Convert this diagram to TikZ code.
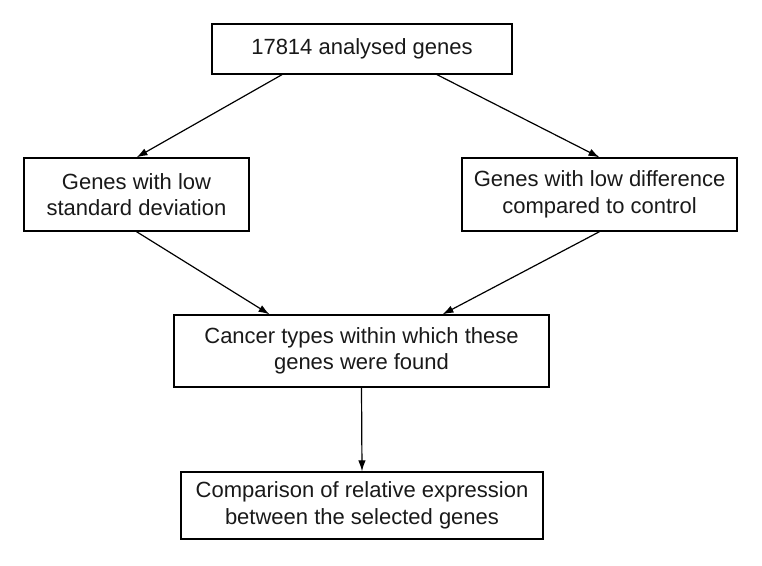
\documentclass[tikz,border=0pt]{standalone}
\usepackage{fontspec}
\setmainfont{Liberation Sans}
\usetikzlibrary{arrows.meta}
\begin{document}
\begin{tikzpicture}[x=1pt, y=-1pt,
  stagebox/.style={draw, line width=1.3pt, align=center, inner sep=0pt,
    font=\fontsize{22}{26.5}\selectfont, text=black!90},
  flow/.style={draw, line width=1.2pt, -{Latex[length=11pt, width=7.5pt]}}]
\useasboundingbox (0,0) rectangle (762,565);
\node[stagebox, minimum width=300pt, minimum height=50pt] (genes) at (362,49) {17814 analysed genes};
\node[stagebox, minimum width=225pt, minimum height=73pt] (lowsd) at (136.5,194.5) {Genes with low\\standard deviation};
\node[stagebox, minimum width=275pt, minimum height=73pt] (lowdiff) at (599.5,194.5) {Genes with low difference\\compared to control};
\node[stagebox, minimum width=375pt, minimum height=72pt] (cancer) at (361.5,351) {Cancer types within which these\\genes were found};
\node[stagebox, minimum width=362pt, minimum height=67pt] (compare) at (362,505.5) {Comparison of relative expression\\between the selected genes};
\draw[flow] ([xshift=-80pt]genes.south) -- (lowsd.north);
\draw[flow] ([xshift=75pt]genes.south) -- (lowdiff.north);
\draw[flow] (lowsd.south) -- ([xshift=-92pt]cancer.north);
\draw[flow] (lowdiff.south) -- ([xshift=81pt]cancer.north);
\draw[flow] (cancer.south) -- (compare.north);
\end{tikzpicture}
\end{document}
